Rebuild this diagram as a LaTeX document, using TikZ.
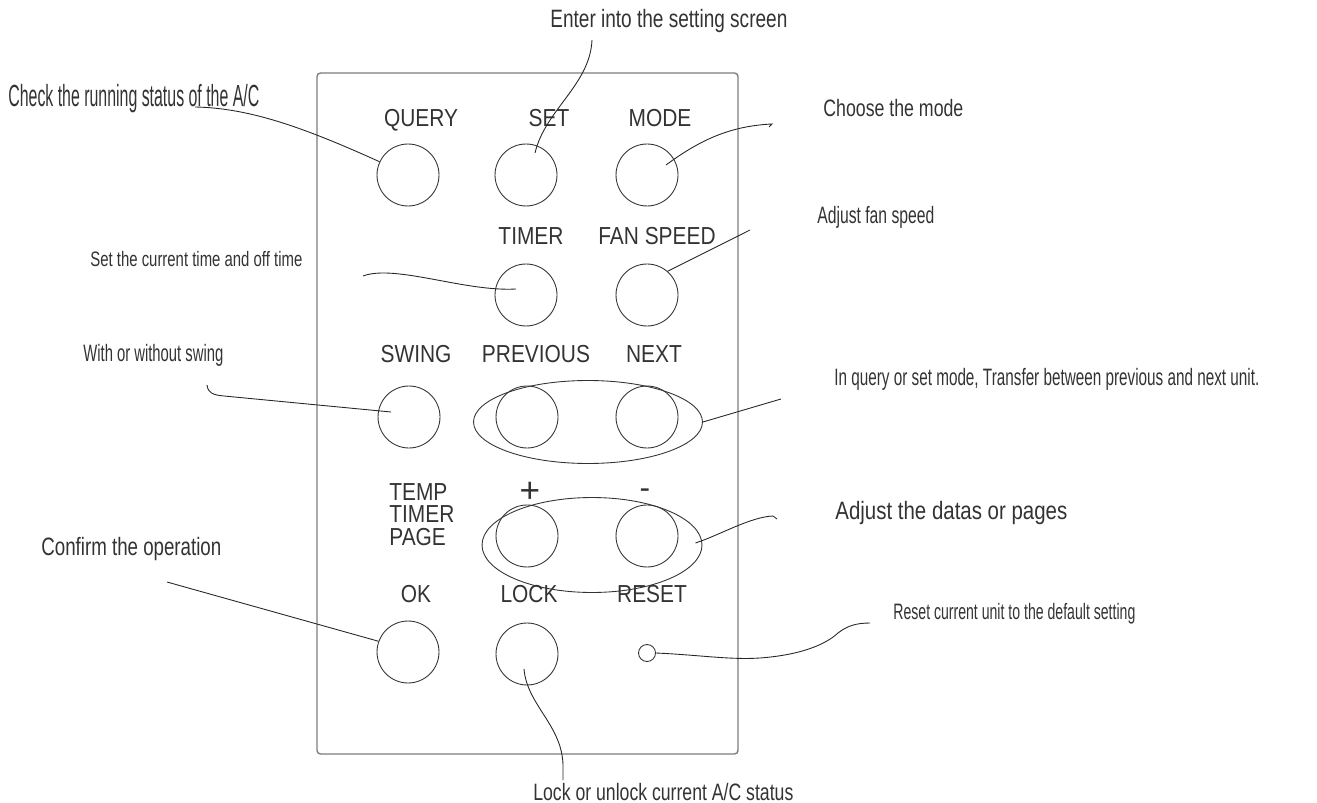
\documentclass[tikz,border=0pt]{standalone}
\usepackage{fontspec}
\setmainfont{Liberation Sans}
\newfontfamily\keyfont[FakeStretch=0.85]{Liberation Sans}
\usepackage{graphicx}
\usepackage{tikz}
\usetikzlibrary{shapes,calc}
\definecolor{ink}{RGB}{51,51,51}
\definecolor{rim}{RGB}{125,125,125}
\newlength{\pxu}\setlength{\pxu}{0.02cm}
\newcommand{\squeeze}[3]{\resizebox{#1\pxu}{\height}{\fontsize{#2}{#2}\selectfont #3}}
\tikzstyle{btn} = [draw=ink, circle, minimum size=1.24cm, inner sep=0pt, line width=0.5pt]
\tikzstyle{hole} = [draw=ink, circle, minimum size=0.34cm, inner sep=0pt, line width=0.5pt]
\tikzstyle{ring} = [draw=ink, ellipse, inner sep=0pt, line width=0.5pt]
\tikzstyle{keylbl} = [font=\keyfont\fontsize{14}{16}\selectfont, text=ink, inner sep=0pt, anchor=base]
\tikzstyle{notelbl} = [text=ink, inner sep=0pt, anchor=base west]
\tikzstyle{lead} = [line width=0.5pt, color=black!85]

\begin{document}
\begin{tikzpicture}[x=0.02cm, y=-0.02cm]
\useasboundingbox (0,0) rectangle (1317,803);
% Remote panel
\draw[rim, line width=0.8pt, rounded corners=2pt] (317,73) rectangle (738,754);

% Buttons
\node[btn] (query) at (408,175) {};
\node[btn] (set) at (526,175) {};
\node[btn] (mode) at (647,175) {};
\node[btn] (timer) at (526,295) {};
\node[btn] (fanspeed) at (647,295) {};
\node[btn] (swing) at (409,417) {};
\node[btn] (prev) at (527,417) {};
\node[btn] (next) at (647,417) {};
\node[btn] (plus) at (527,536) {};
\node[btn] (minus) at (647,536) {};
\node[btn] (ok) at (408,652) {};
\node[btn] (lock) at (527,654) {};
\node[hole] (reset) at (647,653) {};

% Groups
\node[ring, minimum width=4.58cm, minimum height=1.66cm] (pairnav) at (588,422) {};
\node[ring, minimum width=4.4cm, minimum height=1.9cm] (pairadj) at (592,545) {};

% Button labels
\node[keylbl] (lquery) at (421,127) {QUERY};
\node[keylbl] (lset) at (549,127) {SET};
\node[keylbl] (lmode) at (660,127) {MODE};
\node[keylbl] (ltimer) at (531,245) {TIMER};
\node[keylbl] (lfan) at (657,245) {FAN SPEED};
\node[keylbl] (lswing) at (416,363) {SWING};
\node[keylbl] (lprev) at (536,363) {PREVIOUS};
\node[keylbl] (lnext) at (654,363) {NEXT};
\node[keylbl, anchor=north west, align=left, font=\keyfont\fontsize{14}{12.8}\selectfont] (ltemp) at (389,483) {TEMP\\TIMER\\PAGE};
\node[keylbl, font=\fontsize{20}{20}\selectfont] (lplus) at (530,502) {+};
\node[keylbl, font=\fontsize{18}{18}\selectfont] (lminus) at (645,498) {-};
\node[keylbl] (lok) at (416,602) {OK};
\node[keylbl] (llock) at (529,602) {LOCK};
\node[keylbl] (lreset) at (652,602) {RESET};

% Notes
\node[notelbl] (tquery) at (8,107) {\squeeze{251}{17.4}{Check the running status of the A/C}};
\node[notelbl] (tset) at (550,28) {\squeeze{237}{14.3}{Enter into the setting screen}};
\node[notelbl] (tmode) at (823,117) {\squeeze{140}{13.5}{Choose the mode}};
\node[notelbl] (tfan) at (817,224) {\squeeze{117}{13.5}{Adjust fan speed}};
\node[notelbl] (ttimer) at (90,267) {\squeeze{212}{11.9}{Set the current time and off time}};
\node[notelbl] (tswing) at (83,362) {\squeeze{140}{13.5}{With or without swing}};
\node[notelbl] (tnav) at (834,385) {\squeeze{425}{13.5}{In query or set mode, Transfer between previous and next unit.}};
\node[notelbl] (tadj) at (835,519) {\squeeze{232}{14.3}{Adjust the datas or pages}};
\node[notelbl] (tok) at (41,555) {\squeeze{180}{14.3}{Confirm the operation}};
\node[notelbl] (treset) at (893,619) {\squeeze{242}{12.7}{Reset current unit to the default setting}};
\node[notelbl] (tlock) at (533,800) {\squeeze{260}{13.5}{Lock or unlock current A/C status}};

% Leader lines
\coordinate (qend) at (195,107);
\draw[lead] (qend) .. controls (250,108) and (305,128) .. (query.155);
\coordinate (send) at (592,40);
\draw[lead] (send) .. controls (590,85) and (545,110) .. ($(set)+(9,-22)$);
\coordinate (mend) at (772,124);
\draw[lead] ($(mode)+(19,-10)$) .. controls (700,140) and (730,126) .. (mend) -- +(-3,3);
\coordinate (fend) at (750,230);
\draw[lead] (fanspeed.49) -- (fend);
\coordinate (tend) at (363,276);
\draw[lead] (tend) .. controls (395,264) and (465,292) .. ($(timer)+(-10,-6)$);
\coordinate (wend) at (207,385);
\draw[lead] (wend) .. controls (208,393) and (213,395) .. (224,396) -- ($(swing)+(-18,-5)$);
\coordinate (nend) at (781,399);
\draw[lead] (pairnav.east) -- (nend);
\coordinate (aend) at (773,516);
\draw[lead] ($(pairadj.east)+(-7,-2)$) .. controls (720,535) and (750,517) .. (aend) -- +(4,3);
\coordinate (oend) at (167,582);
\draw[lead] (oend) -- (ok.160);
\coordinate (rend) at (870,623);
\draw[lead] (reset.east) .. controls (700,655) and (730,660) .. (760,658) .. controls (800,655) and (825,645) .. (838,633) .. controls (847,626) and (856,623) .. (rend);
\coordinate (lend) at (563,780);
\draw[lead] ($(lock)+(-3,15)$) .. controls (527,705) and (562,725) .. (563,765) -- (lend);
\end{tikzpicture}
\end{document}
